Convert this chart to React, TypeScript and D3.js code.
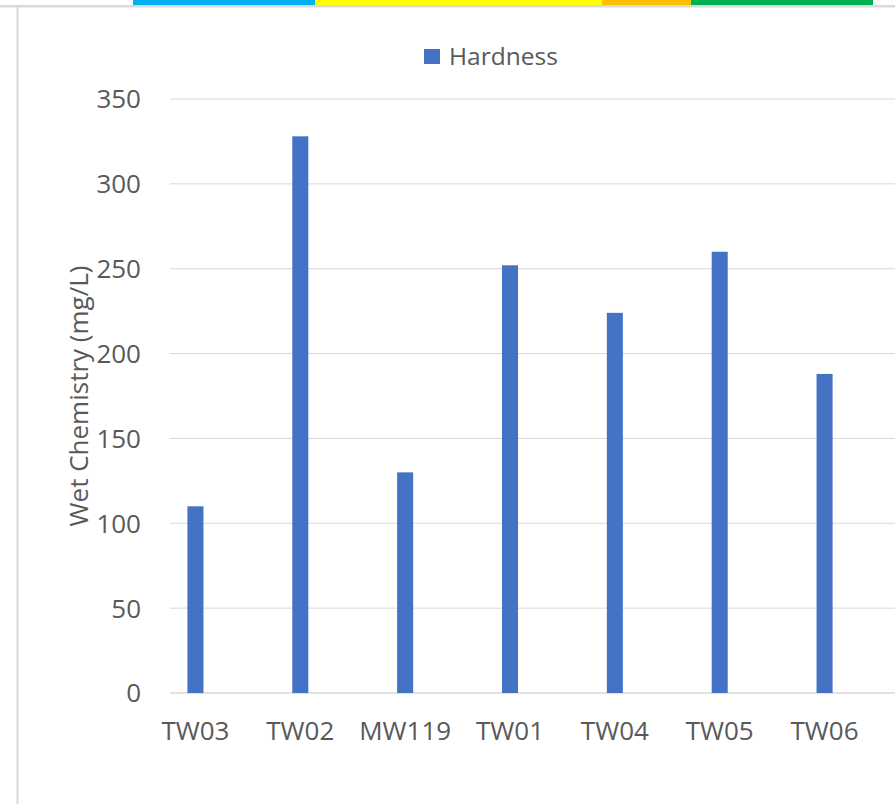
import React from "react";
import * as d3 from "d3";

const categories = ["TW03", "TW02", "MW119", "TW01", "TW04", "TW05", "TW06"];
const hardness = [110, 328, 130, 252, 224, 260, 188];
const yTicks = [0, 50, 100, 150, 200, 250, 300, 350];
const seriesName = "Hardness";
const yTitle = "Wet Chemistry (mg/L)";
const topStripColors = ["#00B0F0", "#FFFF00", "#FFC000", "#00B050"];
const topStripBreaks = [133, 315, 602, 691, 873];

const W = 895;
const H = 804;
const FONT = "'Open Sans', 'Noto Sans', sans-serif";
const TXT = "#595959";
const GRID = "#d9d9d9";
const BAR = "#4472C4";

export default function App() {
  const x = d3.scalePoint<string>().domain(categories).range([143, 877]).padding(0.5);
  const step = x.step();
  const barW = step * 0.153;
  const y = d3.scaleLinear().domain([0, 350]).range([693, 99]);
  const gridX0 = 170;
  const gridX1 = 895;

  return (
    <svg
      width={W}
      height={H}
      style={{ position: "absolute", left: 0, top: 0, display: "block", background: "#fff" }}
      fontFamily={FONT}
    >
      <rect x={0} y={0} width={W} height={H} fill="#fff" />
      {/* frame */}
      <rect x={0} y={5} width={W} height={2.5} fill={GRID} />
      {topStripColors.map((c, i) => (
        <rect key={i} x={topStripBreaks[i]} y={0} width={topStripBreaks[i + 1] - topStripBreaks[i]} height={5} fill={c} />
      ))}
      <rect x={16.5} y={6} width={2} height={H - 6} fill={GRID} />

      {/* gridlines */}
      {yTicks.map((t) => (
        <line key={t} x1={gridX0} x2={gridX1} y1={y(t)} y2={y(t)} stroke={GRID} strokeWidth={t === 0 ? 1.5 : 1} />
      ))}
      {/* y tick labels */}
      {yTicks.map((t) => (
        <text key={"l" + t} x={141} y={y(t)} dy="0.36em" textAnchor="end" fontSize={26} fill={TXT}>
          {t}
        </text>
      ))}
      {/* y title */}
      <text
        transform={`translate(88,${(y(0) + y(350)) / 2}) rotate(-90)`}
        textAnchor="middle"
        fontSize={26}
        fill={TXT}
      >
        {yTitle}
      </text>

      {/* bars */}
      {categories.map((c, i) => (
        <rect
          key={c}
          x={(x(c) as number) - barW / 2}
          y={y(hardness[i])}
          width={barW}
          height={y(0) - y(hardness[i])}
          fill={BAR}
        />
      ))}
      {/* x labels */}
      {categories.map((c) => (
        <text key={"x" + c} x={x(c) as number} y={740} textAnchor="middle" fontSize={26} fill={TXT}>
          {c}
        </text>
      ))}

      {/* legend */}
      <rect x={424} y={49} width={16} height={15} fill={BAR} />
      <text x={449} y={65} fontSize={24.5} fill={TXT}>
        {seriesName}
      </text>
    </svg>
  );
}
